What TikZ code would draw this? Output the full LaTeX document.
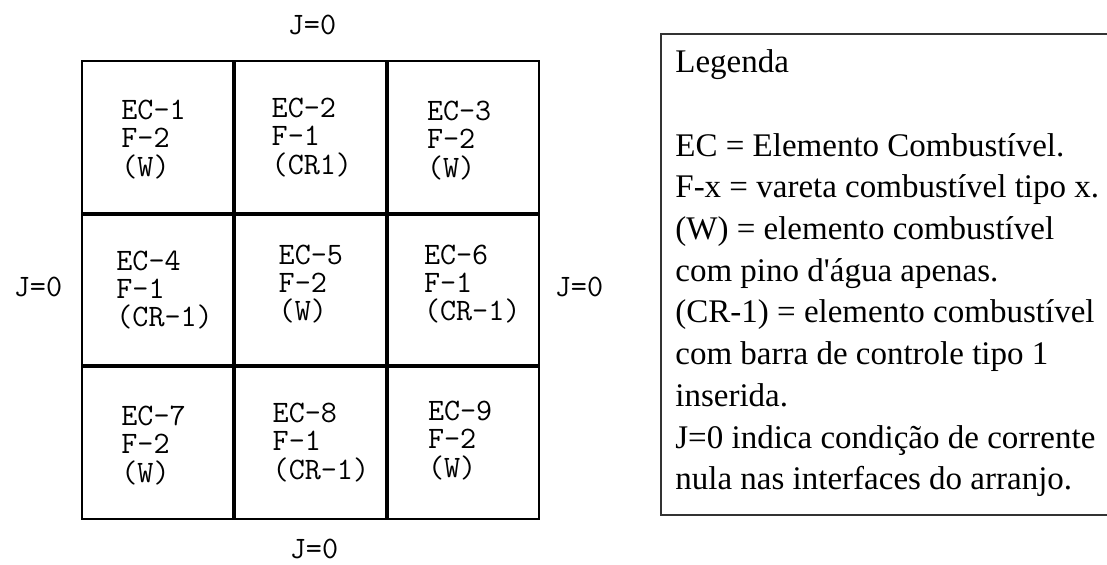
\documentclass[tikz,border=0pt]{standalone}
\usepackage{fontspec}
\newfontfamily\legendfont{Liberation Serif}[Ligatures=TeXOff]
\begin{document}
\begin{tikzpicture}[
  x=0.5pt,y=-0.5pt,
  outer/.style={line width=0.9pt},
  inner/.style={line width=1.6pt},
  legendbox/.style={line width=1pt,draw=black!80},
  cell/.style={anchor=west,align=left,inner sep=0pt,font=\ttfamily\fontsize{15.6}{14.2}\selectfont},
  bound/.style={inner sep=0pt,font=\ttfamily\fontsize{15.6}{14.2}\selectfont},
  legend/.style={anchor=north west,align=left,inner sep=0pt,font=\legendfont\fontsize{16.5}{20.85}\selectfont}
]
\useasboundingbox (0,0) rectangle (1107,565);

% arranjo 3x3
\draw[outer] (82,61) rectangle (539,519);
\draw[inner] (234,61) -- (234,519) (387,61) -- (387,519);
\draw[inner] (82,214) -- (539,214) (82,366) -- (539,366);

\foreach \n/\c/\r/\f/\w/\dx/\dy in {
    1/0/0/2/{(W)}/39/2,     2/1/0/1/{(CR1)}/37/0,   3/2/0/2/{(W)}/40/3,
    4/0/1/1/{(CR-1)}/34/0,  5/1/1/2/{(W)}/44/-6,    6/2/1/1/{(CR-1)}/37/-6,
    7/0/2/2/{(W)}/39/3,     8/1/2/1/{(CR-1)}/38/0,  9/2/2/2/{(W)}/41/-2}
  \node[cell] (ec\n) at ({82+152.3*\c+\dx},{137.5+152.5*\r+\dy}) {EC-\n\\F-\f\\\w};

% condicoes de contorno
\node[bound] (jtop) at (312,25) {J=0};
\node[bound] (jbottom) at (314,549) {J=0};
\node[bound] (jleft) at (38,287) {J=0};
\node[bound] (jright) at (579,287) {J=0};

% legenda
\draw[legendbox] (1107,34) -- (661,34) -- (661,515) -- (1107,515);
\node[legend] (leg) at (675,49.5) {Legenda\\[20.85pt]
  EC = Elemento Combustível.\\
  F-x = vareta combustível tipo x.\\
  (W) = elemento combustível\\
  com pino d'água apenas.\\
  (CR-1) = elemento combustível\\
  com barra de controle tipo 1\\
  inserida.\\
  J=0 indica condição de corrente\\
  nula nas interfaces do arranjo.};
\end{tikzpicture}
\end{document}
